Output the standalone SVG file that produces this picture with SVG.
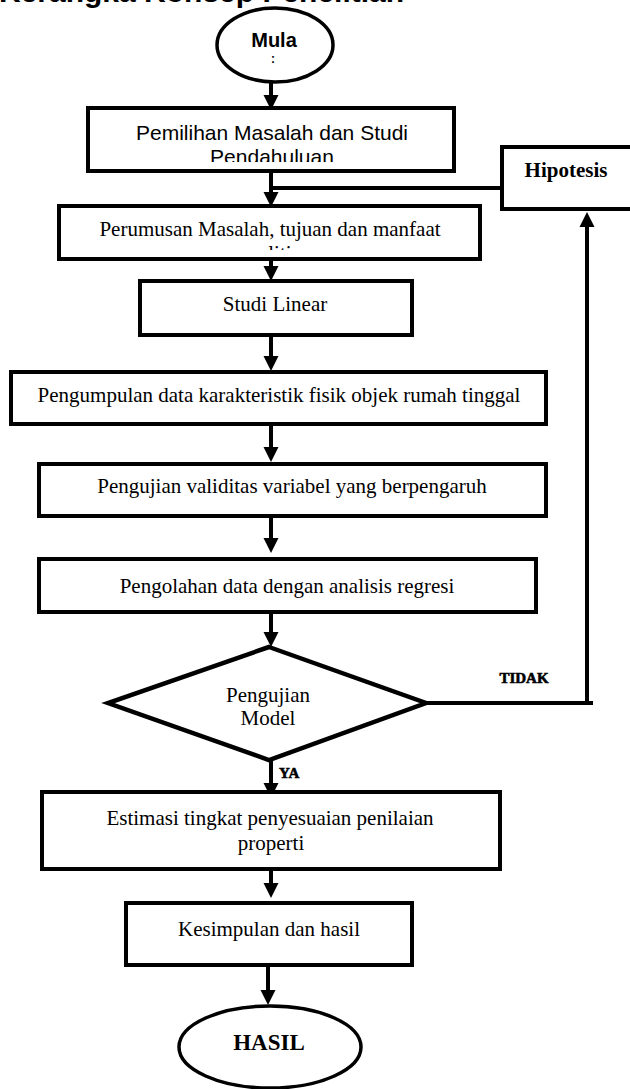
<svg xmlns="http://www.w3.org/2000/svg" width="630" height="1089" viewBox="0 0 630 1089">
<style>
.box{fill:#fff;stroke:#000;stroke-width:4}
.term{fill:#fff;stroke:#000;stroke-width:3.5}
.conn{fill:none;stroke:#000;stroke-width:4}
.serif{font-family:"Liberation Serif","Times New Roman",serif;font-size:21px;fill:#000}
.sans{font-family:"Liberation Sans",Arial,sans-serif;font-size:21px;fill:#000}
.bold{font-weight:bold}
</style>
<defs>
<marker id="ah" markerUnits="userSpaceOnUse" markerWidth="16" markerHeight="16" refX="0" refY="7.5" orient="auto" overflow="visible">
<path d="M0,0 L15,7.5 L0,15 Z" fill="#000"/>
</marker>
<clipPath id="clipPem"><rect x="0" y="0" width="630" height="162"/></clipPath>
<clipPath id="clipPer"><rect x="0" y="0" width="630" height="250"/></clipPath>
</defs>
<rect x="0" y="0" width="630" height="1089" fill="#fff"/>

<text x="-1" y="2" class="sans bold" style="font-size:30px">Kerangka Konsep Penelitian</text>

<g id="connectors">
<line class="conn" x1="271" y1="82" x2="271" y2="95" marker-end="url(#ah)"/>
<line class="conn" x1="271" y1="172" x2="271" y2="192" marker-end="url(#ah)"/>
<line class="conn" x1="500" y1="188" x2="269" y2="188"/>
<line class="conn" x1="271" y1="260" x2="271" y2="266" marker-end="url(#ah)"/>
<line class="conn" x1="271" y1="336" x2="271" y2="356" marker-end="url(#ah)"/>
<line class="conn" x1="271" y1="425" x2="271" y2="447" marker-end="url(#ah)"/>
<line class="conn" x1="271" y1="517" x2="271" y2="538" marker-end="url(#ah)"/>
<line class="conn" x1="271" y1="613" x2="271" y2="632" marker-end="url(#ah)"/>
<line class="conn" x1="271" y1="760" x2="271" y2="783" marker-end="url(#ah)"/>
<line class="conn" x1="271" y1="870" x2="271" y2="883" marker-end="url(#ah)"/>
<line class="conn" x1="268" y1="966" x2="268" y2="990" marker-end="url(#ah)"/>
<polyline class="conn" points="426,703 593,703"/>
<line class="conn" x1="587" y1="705" x2="587" y2="227" marker-end="url(#ah)"/>
<text x="524" y="683" text-anchor="middle" class="serif bold" style="font-size:15px;stroke:#000;stroke-width:0.6">TIDAK</text>
<text x="279" y="778" class="serif bold" style="font-size:15px;stroke:#000;stroke-width:0.6">YA</text>
</g>

<g id="mula">
<ellipse class="term" cx="275" cy="45" rx="58" ry="37"/>
<text x="274" y="47" text-anchor="middle" class="sans bold" style="font-size:20px">Mula</text>
<text x="273" y="62.5" text-anchor="middle" class="sans bold" style="font-size:12px">:</text>
</g>

<g id="pemilihan">
<rect class="box" x="88" y="108" width="366" height="63"/>
<text x="272" y="140" text-anchor="middle" class="sans">Pemilihan Masalah dan Studi</text>
<text x="272" y="164" text-anchor="middle" class="sans" clip-path="url(#clipPem)">Pendahuluan</text>
</g>

<g id="hipotesis">
<rect class="box" x="502" y="147" width="140" height="62"/>
<text x="566" y="177" text-anchor="middle" class="serif bold">Hipotesis</text>
</g>

<g id="perumusan">
<rect class="box" x="59" y="206" width="421" height="53"/>
<text x="270" y="236" text-anchor="middle" class="serif">Perumusan Masalah, tujuan dan manfaat</text>
<text x="270" y="260" text-anchor="middle" class="serif" clip-path="url(#clipPer)">penelitian</text>
</g>

<g id="studi">
<rect class="box" x="140" y="281" width="272" height="54"/>
<text x="275" y="311" text-anchor="middle" class="serif">Studi Linear</text>
</g>

<g id="pengumpulan">
<rect class="box" x="11" y="372" width="535" height="52"/>
<text x="279" y="402" text-anchor="middle" class="serif">Pengumpulan data karakteristik fisik objek rumah tinggal</text>
</g>

<g id="validitas">
<rect class="box" x="39" y="464" width="507" height="52"/>
<text x="292" y="493" text-anchor="middle" class="serif">Pengujian validitas variabel yang berpengaruh</text>
</g>

<g id="pengolahan">
<rect class="box" x="39" y="559" width="497" height="53"/>
<text x="287" y="593" text-anchor="middle" class="serif">Pengolahan data dengan analisis regresi</text>
</g>

<g id="model">
<polygon points="269,647 426,703 269,760 108,703" fill="#fff" stroke="#000" stroke-width="4.5" stroke-linejoin="miter"/>
<text x="268" y="702" text-anchor="middle" class="serif">Pengujian</text>
<text x="268" y="725" text-anchor="middle" class="serif">Model</text>
</g>

<g id="estimasi">
<rect class="box" x="42" y="792" width="458" height="77"/>
<text x="270" y="825" text-anchor="middle" class="serif">Estimasi tingkat penyesuaian penilaian</text>
<text x="271" y="850" text-anchor="middle" class="serif">properti</text>
</g>

<g id="kesimpulan">
<rect class="box" x="126" y="903" width="286" height="62"/>
<text x="269" y="936" text-anchor="middle" class="serif">Kesimpulan dan hasil</text>
</g>

<g id="hasil">
<ellipse class="term" cx="270" cy="1047" rx="91" ry="41"/>
<text x="269" y="1050" text-anchor="middle" class="serif bold" style="font-size:23px">HASIL</text>
</g>
</svg>
